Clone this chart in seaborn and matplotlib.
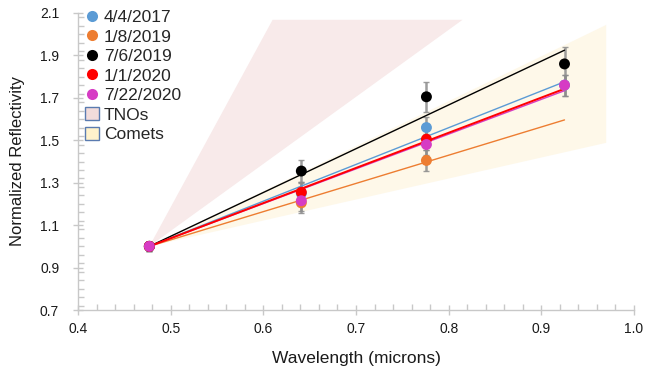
import numpy as np
import pandas as pd
import matplotlib
matplotlib.use("Agg")
import matplotlib.pyplot as plt
from matplotlib.lines import Line2D
from matplotlib.patches import Patch, Polygon
from matplotlib.ticker import MultipleLocator, FormatStrFormatter
import seaborn as sns

# ---------------- data ----------------
wavelength = [0.477, 0.641, 0.776, 0.925]
series_names = ["4/4/2017", "1/8/2019", "7/6/2019", "1/1/2020", "7/22/2020"]
series_colors = ["#5b9bd5", "#ed7d31", "#000000", "#ff0000", "#d63cc4"]

refl_2017_04_04 = [1.00, 1.250, 1.560, 1.760]
refl_2019_01_08 = [1.00, 1.205, 1.405, None]
refl_2019_07_06 = [1.00, 1.355, 1.705, 1.860]
refl_2020_01_01 = [1.00, 1.255, 1.505, None]
refl_2020_07_22 = [1.00, 1.215, 1.480, 1.760]

err_2017_04_04 = [0.02, 0.05, 0.05, 0.05]
err_2019_01_08 = [0.02, 0.05, 0.05, 0.0]
err_2019_07_06 = [0.02, 0.05, 0.07, 0.08]
err_2020_01_01 = [0.02, 0.05, 0.05, 0.0]
err_2020_07_22 = [0.02, 0.05, 0.05, 0.05]

refl_all = [refl_2017_04_04, refl_2019_01_08, refl_2019_07_06, refl_2020_01_01, refl_2020_07_22]
err_all = [err_2017_04_04, err_2019_01_08, err_2019_07_06, err_2020_01_01, err_2020_07_22]

# shaded regions (wavelength, reflectivity vertices)
tno_x = [0.477, 0.610, 0.815]
tno_y = [1.00, 2.068, 2.068]
comet_x = [0.477, 0.970, 0.970]
comet_y = [1.00, 2.044, 1.488]

x_ticks = [0.4, 0.5, 0.6, 0.7, 0.8, 0.9, 1.0]
y_ticks = [0.7, 0.9, 1.1, 1.3, 1.5, 1.7, 1.9, 2.1]

# ---------------- figure ----------------
sns.set_theme(style="white")
plt.rcParams["font.family"] = ["Liberation Sans", "DejaVu Sans"]

fig = plt.figure(figsize=(6.51, 3.73), dpi=100)
ax = fig.add_axes([78 / 651, 1 - 310 / 373, (634 - 78) / 651, (310 - 13) / 373])

ax.add_patch(Polygon(list(zip(tno_x, tno_y)), closed=True, facecolor="#f8eaea",
                     edgecolor="none", zorder=0))
ax.add_patch(Polygon(list(zip(comet_x, comet_y)), closed=True, facecolor="#fef8e9",
                     edgecolor="none", zorder=0))

rows = []
for name, vals, errs in zip(series_names, refl_all, err_all):
    for w, v, e in zip(wavelength, vals, errs):
        if v is not None:
            rows.append({"date": name, "wavelength": w, "refl": v, "err": e})
df = pd.DataFrame(rows)

# trend lines (least squares forced through the first point)
fit_rows = []
for name in series_names:
    sub = df[df["date"] == name]
    x0, y0 = sub["wavelength"].iloc[0], sub["refl"].iloc[0]
    dx = sub["wavelength"].values - x0
    dy = sub["refl"].values - y0
    slope = (dx * dy).sum() / (dx * dx).sum()
    for w in (wavelength[0], wavelength[-1]):
        fit_rows.append({"date": name, "wavelength": w, "refl": y0 + slope * (w - x0)})
fit_df = pd.DataFrame(fit_rows)

lw = {"4/4/2017": 1.0, "1/8/2019": 1.0, "7/6/2019": 1.0, "1/1/2020": 1.4, "7/22/2020": 1.0}
zo = {"4/4/2017": 3.2, "1/8/2019": 3.1, "7/6/2019": 3.3, "1/1/2020": 3.5, "7/22/2020": 3.4}
for name, col in zip(series_names, series_colors):
    sub = fit_df[fit_df["date"] == name]
    sns.lineplot(data=sub, x="wavelength", y="refl", color=col, lw=lw[name],
                 ax=ax, zorder=zo[name], legend=False)

# error bars
ax.errorbar(df["wavelength"], df["refl"], yerr=df["err"], fmt="none",
            ecolor="#8c8c8c", elinewidth=1.8, capsize=2, capthick=1, zorder=2, alpha=0.85)

sns.scatterplot(data=df, x="wavelength", y="refl", hue="date", hue_order=series_names,
                palette=series_colors, s=62, edgecolor="none", ax=ax, zorder=4, legend=False)

ax.set_xlim(0.4, 1.0)
ax.set_ylim(0.7, 2.1)
ax.set_xticks(x_ticks)
ax.set_yticks(y_ticks)
ax.xaxis.set_major_formatter(FormatStrFormatter("%.1f"))
ax.yaxis.set_major_formatter(FormatStrFormatter("%.1f"))
ax.xaxis.set_minor_locator(MultipleLocator(0.02))
ax.yaxis.set_minor_locator(MultipleLocator(0.04))
ax.tick_params(axis="both", which="major", direction="inout", length=7, width=1,
               color="#c8c8c8", labelsize=10, labelcolor="#1a1a1a")
ax.tick_params(axis="both", which="minor", direction="in", length=4, width=1, color="#c8c8c8")
ax.tick_params(axis="x", which="major", pad=5, bottom=True)
ax.tick_params(axis="y", which="major", pad=10, left=True)
ax.tick_params(axis="x", which="minor", bottom=True)
ax.tick_params(axis="y", which="minor", left=True)

for s in ("top", "right"):
    ax.spines[s].set_visible(False)
for s in ("left", "bottom"):
    ax.spines[s].set_color("#c8c8c8")
    ax.spines[s].set_linewidth(1)

ax.set_xlabel("Wavelength (microns)", fontsize=12.5, labelpad=11, color="#1a1a1a")
ax.set_ylabel("Normalized Reflectivity", fontsize=12, labelpad=11, color="#1a1a1a")

handles = [Line2D([0], [0], marker="o", linestyle="none", markersize=8,
                  markerfacecolor=c, markeredgecolor="none") for c in series_colors]
handles += [Patch(facecolor="#f2dcdb", edgecolor="#5a7bb0", linewidth=1),
            Patch(facecolor="#fff2cc", edgecolor="#5a7bb0", linewidth=1)]
labels = series_names + ["TNOs", "Comets"]
leg = ax.legend(handles, labels, loc="upper left", bbox_to_anchor=(0.0, 1.035),
                frameon=False, fontsize=12.5, labelspacing=0.22, handlelength=0.8,
                handleheight=0.8, handletextpad=0.3, borderaxespad=0.3, borderpad=0.1)

fig.savefig("out.png", dpi=100)
